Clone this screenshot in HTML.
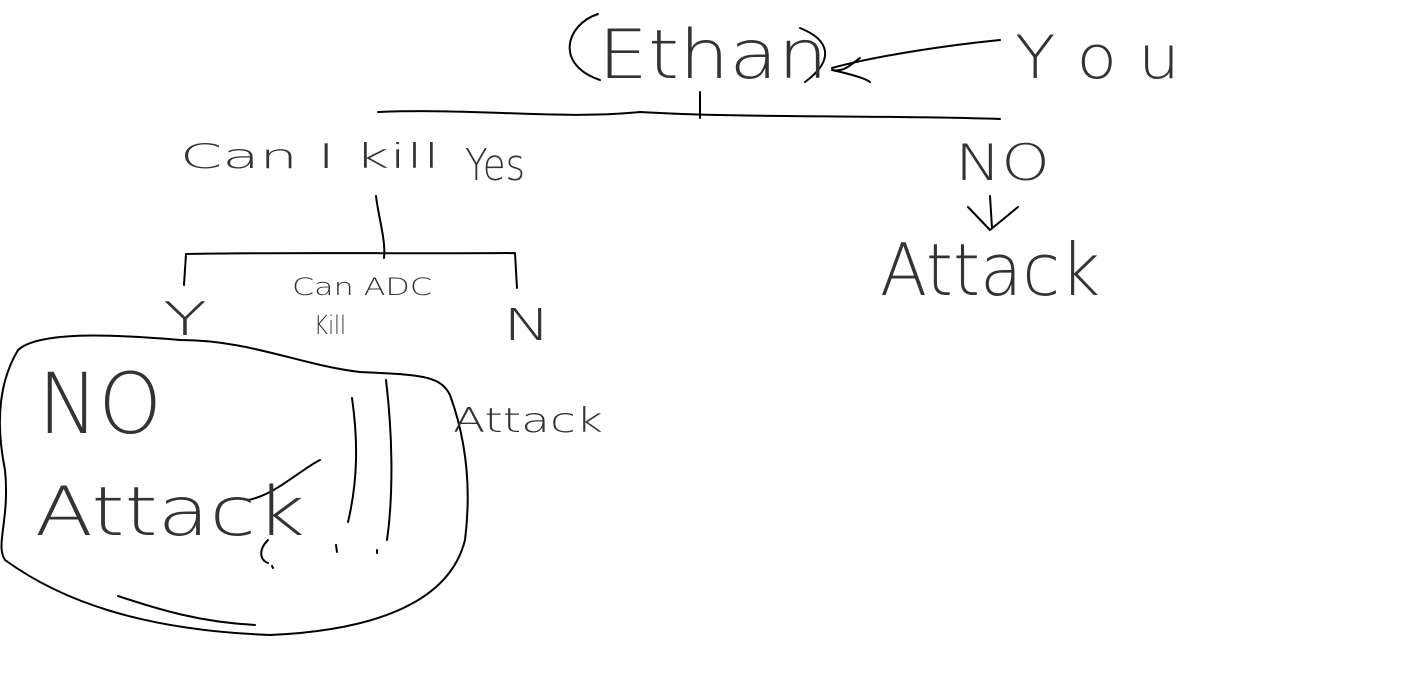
<!DOCTYPE html>
<html><head><meta charset="utf-8"><style>
html,body{margin:0;padding:0;background:#fff;}
svg{display:block}
text{font-family:"DejaVu Sans","Liberation Sans",sans-serif;font-weight:200;fill:#333}
</style></head><body>
<svg width="1426" height="686" viewBox="0 0 1426 686" xmlns="http://www.w3.org/2000/svg">
<g fill="none" stroke="#000" stroke-width="2" stroke-linecap="round" stroke-linejoin="round">
<path d="M598,14 C565,25 555,65 600,80"/>
<path d="M800,28 C830,40 835,60 805,82"/>
<path d="M1000,40 C950,45 880,55 832,68"/>
<path d="M860,58 C850,65 845,72 832,70 C850,74 865,78 870,82"/>
<path d="M378,112 C480,108 560,120 640,112 C740,118 880,115 1000,119"/>
<path d="M700,92 L700,118"/>
<path d="M990,196 L992,228"/>
<path d="M968,207 L990,230 L1018,207"/>
<path d="M376,196 C378,215 386,240 384,258"/>
<path d="M184,285 L186,254 C280,252 420,254 515,253 L517,288"/>
<path d="M180,340 C120,335 40,330 18,350 C0,380 -5,420 5,470 C10,520 -5,545 5,560 C60,600 140,630 270,635 C380,630 450,600 465,540 C470,500 470,450 450,395 C440,375 420,375 360,372 C300,365 250,340 180,340"/>
<path d="M352,398 C358,440 358,480 348,522"/>
<path d="M386,380 C392,430 394,490 387,540"/>
<path d="M268,540 C258,550 260,560 268,563"/>
<path d="M336,545 L337,552 M377,550 L377,553 M272,566 L273,568"/>
<path d="M118,596 C160,610 200,622 255,625"/>
<path d="M248,500 C275,495 300,470 320,460"/>
</g>
<text x="598" y="78" font-size="68" textLength="230" lengthAdjust="spacingAndGlyphs">Ethan</text>
<text x="1015" y="78" font-size="60" textLength="165" lengthAdjust="spacingAndGlyphs">Y o u</text>
<text x="180" y="168" font-size="34" textLength="260" lengthAdjust="spacingAndGlyphs">Can  I kill</text>
<text x="465" y="180" font-size="44" textLength="60" lengthAdjust="spacingAndGlyphs">Yes</text>
<text x="955" y="180" font-size="50" textLength="95" lengthAdjust="spacingAndGlyphs">NO</text>
<text x="880" y="295" font-size="72" textLength="220" lengthAdjust="spacingAndGlyphs">Attack</text>
<text x="292" y="295" font-size="24" textLength="140" lengthAdjust="spacingAndGlyphs">Can ADC</text>
<text x="314" y="334" font-size="26" textLength="32" lengthAdjust="spacingAndGlyphs">Kill</text>
<text x="503" y="340" font-size="44" textLength="48" lengthAdjust="spacingAndGlyphs">N</text>
<text x="163" y="335" font-size="46" textLength="44" lengthAdjust="spacingAndGlyphs">Y</text>
<text x="38" y="433" font-size="84" textLength="124" lengthAdjust="spacingAndGlyphs">NO</text>
<text x="35" y="535" font-size="68" textLength="270" lengthAdjust="spacingAndGlyphs">Attack</text>
<text x="453" y="432" font-size="34" textLength="150" lengthAdjust="spacingAndGlyphs">Attack</text>
</svg>
</body></html>
